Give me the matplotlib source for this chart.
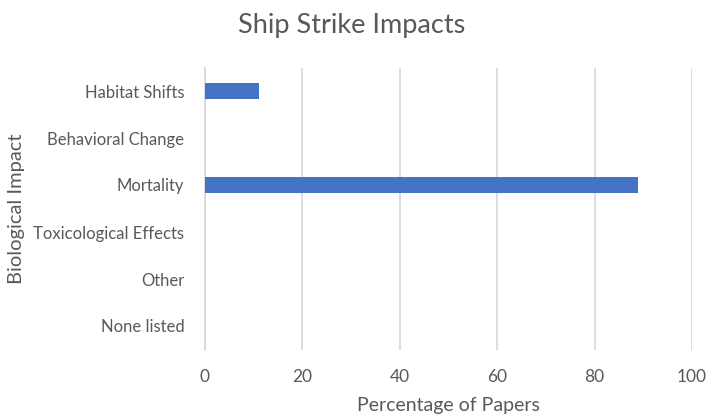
import matplotlib
matplotlib.use("Agg")
import matplotlib.pyplot as plt

categories = ["Habitat Shifts", "Behavioral Change", "Mortality",
              "Toxicological Effects", "Other", "None listed"]
values = [11.1, 0, 88.9, 0, 0, 0]
xticks = [0, 20, 40, 60, 80, 100]

plt.rcParams['font.family'] = ['Lato', 'DejaVu Sans']
txt = '#595959'

fig = plt.figure(figsize=(7.09, 4.18), dpi=100)
ax = fig.add_axes([205/709, 1-349.5/418, (692-205)/709, (349.5-67.5)/418])

ypos = list(range(len(categories)))
ax.barh(ypos, values, height=0.34, color='#4472C4', zorder=3)
ax.set_ylim(len(categories)-0.5, -0.5)
ax.set_yticks(ypos)
ax.set_yticklabels(categories, fontsize=12, color=txt)
ax.set_xlim(0, 100)
ax.set_xticks(xticks)
ax.set_xticklabels([str(t) for t in xticks], fontsize=12.5, color=txt)
ax.tick_params(axis='y', length=0, pad=15)
ax.tick_params(axis='x', length=0, pad=14)
ax.grid(axis='x', color='#d9d9d9', linewidth=1.3, zorder=0)
for s in ['top', 'right', 'bottom']:
    ax.spines[s].set_visible(False)
ax.spines['left'].set_color('#d9d9d9')
ax.spines['left'].set_linewidth(1.3)

ax.set_xlabel("Percentage of Papers", fontsize=14, color=txt, labelpad=9)
fig.text(17/709, 1-209/418, "Biological Impact", rotation=90, fontsize=14.5,
         color=txt, ha='center', va='center')
fig.text(352/709, 1-25/418, "Ship Strike Impacts", fontsize=19.5, color=txt,
         ha='center', va='center')

fig.savefig("out.png", dpi=100)
